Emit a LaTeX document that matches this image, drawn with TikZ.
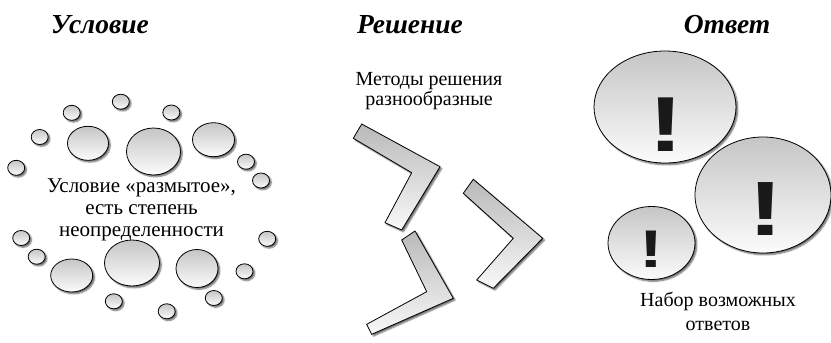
\documentclass[tikz,border=0pt]{standalone}
\usepackage{fontspec}
\setmainfont{Liberation Serif}[
  BoldFont={Liberation Serif Bold},
  ItalicFont={Liberation Serif Italic},
  BoldItalicFont={Liberation Serif Bold Italic}]
\newfontfamily\markfont{Liberation Sans}
\usetikzlibrary{shapes.geometric,shadows.blur}

\tikzset{
  shade3d/.style={blur shadow={shadow xshift=1.8pt, shadow yshift=-1.8pt,
      shadow blur radius=1.4pt, shadow blur steps=6, shadow opacity=60}},
  bubble/.style={ellipse, draw=black, line width=0.8pt, inner sep=0pt,
      top color=gray!45, bottom color=gray!3, shade3d},
  chevron/.style={draw=black, line width=0.8pt, line join=miter,
      top color=gray!55, bottom color=gray!5, shade3d},
  heading/.style={anchor=base, inner sep=0pt,
      font=\fontsize{27.5}{30}\selectfont\bfseries\itshape},
  caption/.style={anchor=base, inner sep=0pt, font=\fontsize{20}{22}\selectfont},
  bigcaption/.style={caption, font=\fontsize{21}{23}\selectfont},
  bang/.style={anchor=base, text=black!90, inner sep=0pt, xscale=1.35}
}

\begin{document}
\begin{tikzpicture}[x=1pt,y=-1pt]
\useasboundingbox (0,0) rectangle (831,343);

% headings
\node[heading] (hcond) at (100,33) {Условие};
\node[heading] (hsol)  at (410,33) {Решение};
\node[heading] (hans)  at (727,33) {Ответ};

% ---- the "blurred" condition: a ring of bubbles ----
\foreach \n/\x/\y in {s1/120.8/101.7, s2/71.7/112.8, s3/171.3/112.5,
    s4/39.7/137, s5/16.2/167.8, s6/246/161.7, s7/261/180.5,
    s8/267.2/238.8, s9/244.5/271.3, s10/213.8/298, s11/166.7/311.3,
    s12/113.8/301.3, s13/36.7/256.7, s14/21.2/238}
  \node[bubble, minimum width=17pt, minimum height=15pt] (\n) at (\x,\y) {};

\node[bubble, minimum width=41pt, minimum height=34pt] (b1) at (88,143.3) {};
\node[bubble, minimum width=54pt, minimum height=47pt] (b2) at (153.5,151.5) {};
\node[bubble, minimum width=42pt, minimum height=34pt] (b3) at (213.5,139.7) {};
\node[bubble, minimum width=42pt, minimum height=33pt] (b4) at (71.7,275.5) {};
\node[bubble, minimum width=55pt, minimum height=46pt] (b5) at (132,263) {};
\node[bubble, minimum width=42pt, minimum height=38pt] (b6) at (197,268.5) {};

\node[bigcaption] (c1) at (141.5,192) {Условие «размытое»,};
\node[bigcaption] (c2) at (141.5,214) {есть степень};
\node[bigcaption] (c3) at (141.5,236) {неопределенности};

% ---- the solution: three bent arrows ----
\node[caption] (m1) at (429,85.5) {Методы решения};
\node[caption] (m2) at (429,105.5) {разнообразные};

\path[chevron] (361.7,124) -- (440,166.7) -- (401.7,230) -- (385,222.7)
  -- (411.7,172.7) -- (353.3,138.3) -- cycle;
\path[chevron] (473.3,179.3) -- (542.7,238.3) -- (493.3,288.3) -- (476.7,280)
  -- (513.3,238.3) -- (463.3,193.3) -- cycle;
\path[chevron] (415,231) -- (453.3,298.3) -- (371.7,334.3) -- (366.7,324.3)
  -- (426.7,291.7) -- (401.7,240) -- cycle;

% ---- the answer: a set of possible answers ----
\node[bubble, minimum width=142pt, minimum height=112pt] (a1) at (665,107) {};
\node[bubble, minimum width=136pt, minimum height=116pt] (a2) at (763,195) {};
\node[bubble, minimum width=87pt, minimum height=73pt] (a3) at (651.5,243) {};

\node[bang, font=\markfont\bfseries\fontsize{78}{80}\selectfont] (x1) at (665.7,151.7) {!};
\node[bang, font=\markfont\bfseries\fontsize{77}{80}\selectfont] (x2) at (766,235) {!};
\node[bang, font=\markfont\bfseries\fontsize{53}{56}\selectfont] (x3) at (651.7,267.7) {!};

\node[caption] (r1) at (718,306) {Набор возможных};
\node[caption] (r2) at (718,330) {ответов};
\end{tikzpicture}
\end{document}
